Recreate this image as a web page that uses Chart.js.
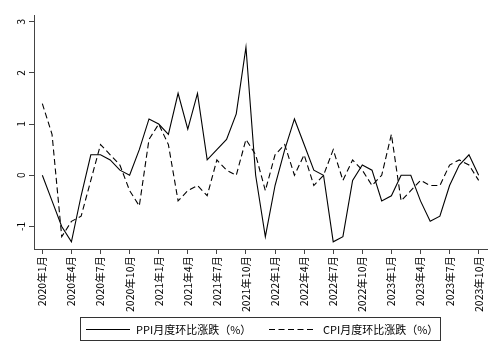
<!DOCTYPE html>
<html>
<head>
<meta charset="utf-8">
<script src="https://cdn.jsdelivr.net/npm/chart.js@4"></script>
<style>
  body { margin: 0; background: #fff; }
  #wrap { width: 499px; height: 361px; }
</style>
</head>
<body>
<div id="wrap"><canvas id="chart" width="499" height="361"></canvas></div>
<script>
const months = [
  "2020年1月", "2020年2月", "2020年3月", "2020年4月", "2020年5月", "2020年6月",
  "2020年7月", "2020年8月", "2020年9月", "2020年10月", "2020年11月", "2020年12月",
  "2021年1月", "2021年2月", "2021年3月", "2021年4月", "2021年5月", "2021年6月",
  "2021年7月", "2021年8月", "2021年9月", "2021年10月", "2021年11月", "2021年12月",
  "2022年1月", "2022年2月", "2022年3月", "2022年4月", "2022年5月", "2022年6月",
  "2022年7月", "2022年8月", "2022年9月", "2022年10月", "2022年11月", "2022年12月",
  "2023年1月", "2023年2月", "2023年3月", "2023年4月", "2023年5月", "2023年6月",
  "2023年7月", "2023年8月", "2023年9月", "2023年10月"
];

// PPI 月度环比 (%)
const ppi = [
  0.0, -0.5, -1.0, -1.3, -0.4, 0.4, 0.4, 0.3, 0.1, 0.0, 0.5, 1.1,
  1.0, 0.8, 1.6, 0.9, 1.6, 0.3, 0.5, 0.7, 1.2, 2.5, 0.0, -1.2,
  -0.2, 0.5, 1.1, 0.6, 0.1, 0.0, -1.3, -1.2, -0.1, 0.2, 0.1, -0.5,
  -0.4, 0.0, 0.0, -0.5, -0.9, -0.8, -0.2, 0.2, 0.4, 0.0
];

// CPI 月度环比 (%)
const cpi = [
  1.4, 0.8, -1.2, -0.9, -0.8, -0.1, 0.6, 0.4, 0.2, -0.3, -0.6, 0.7,
  1.0, 0.6, -0.5, -0.3, -0.2, -0.4, 0.3, 0.1, 0.0, 0.7, 0.4, -0.3,
  0.4, 0.6, 0.0, 0.4, -0.2, 0.0, 0.5, -0.1, 0.3, 0.1, -0.2, 0.0,
  0.8, -0.5, -0.3, -0.1, -0.2, -0.2, 0.2, 0.3, 0.2, -0.1
];

// every third month gets a tick
const xTicks = [0, 3, 6, 9, 12, 15, 18, 21, 24, 27, 30, 33, 36, 39, 42, 45];
const yTicks = [-1, 0, 1, 2, 3];

const seriesNames = ["PPI月度环比涨跌（%）", "CPI月度环比涨跌（%）"];

const FONT = "'Noto Sans CJK SC', 'Noto Sans', sans-serif";
const AXIS = "#444";

function toPoints(arr) {
  return arr.map((v, i) => ({ x: i, y: v }));
}

// y labels are rotated in the original, Chart.js can't rotate vertical ticks
const extras = {
  id: "extras",
  afterDraw(chart) {
    const ctx = chart.ctx;
    const ys = chart.scales.y;

    ctx.save();
    ctx.fillStyle = "#000";
    ctx.font = "10px " + FONT;
    ctx.textAlign = "center";
    ctx.textBaseline = "middle";
    for (const t of ys.ticks) {
      const py = ys.getPixelForValue(t.value);
      ctx.save();
      ctx.translate(21, py);
      ctx.rotate(-Math.PI / 2);
      ctx.fillText(String(t.value), 0, 0);
      ctx.restore();
    }
    ctx.restore();

    // legend box
    ctx.save();
    ctx.strokeStyle = "#333";
    ctx.lineWidth = 1;
    ctx.strokeRect(80.5, 317.5, 360, 23);

    const items = [
      { x0: 86, x1: 130, tx: 136, dash: [] },
      { x0: 269, x1: 316, tx: 323, dash: [6, 3.5] }
    ];
    const ly = 329.5;
    ctx.font = "11px " + FONT;
    ctx.fillStyle = "#000";
    ctx.textBaseline = "middle";
    ctx.textAlign = "left";
    items.forEach((it, k) => {
      ctx.beginPath();
      ctx.setLineDash(it.dash);
      ctx.strokeStyle = "#000";
      ctx.lineWidth = 1.1;
      ctx.moveTo(it.x0, ly);
      ctx.lineTo(it.x1, ly);
      ctx.stroke();
      ctx.setLineDash([]);
      ctx.fillText(chart.data.datasets[k].label, it.tx, ly);
    });
    ctx.restore();
  }
};

const ctx = document.getElementById("chart").getContext("2d");
const chart = new Chart(ctx, {
  type: "line",
  data: {
    datasets: [
      {
        label: seriesNames[0],
        data: toPoints(ppi),
        borderColor: "#000",
        borderWidth: 1.1,
        pointRadius: 0,
        tension: 0,
        fill: false
      },
      {
        label: seriesNames[1],
        data: toPoints(cpi),
        borderColor: "#000",
        borderWidth: 1.1,
        borderDash: [6, 3.5],
        pointRadius: 0,
        tension: 0,
        fill: false
      }
    ]
  },
  options: {
    responsive: false,
    animation: false,
    layout: {
      padding: { left: 0, right: 12, top: 15, bottom: 42 }
    },
    plugins: {
      legend: { display: false },
      tooltip: { enabled: false }
    },
    scales: {
      x: {
        type: "linear",
        min: -0.86,
        max: 45.86,
        afterBuildTicks: (s) => {
          s.ticks = xTicks.map(v => ({ value: v }));
        },
        afterFit: (s) => {
          s.height = 70;
          s.paddingLeft = 0;
          s.paddingRight = 0;
        },
        ticks: {
          callback: (v) => months[v],
          autoSkip: false,
          minRotation: 90,
          maxRotation: 90,
          padding: 2,
          color: "#000",
          font: { family: FONT, size: 10.5 }
        },
        grid: {
          display: true,
          drawOnChartArea: false,
          drawTicks: true,
          tickLength: 5,
          color: AXIS
        },
        border: { display: true, color: AXIS, width: 1 }
      },
      y: {
        type: "linear",
        min: -1.44,
        max: 3.13,
        afterBuildTicks: (s) => {
          s.ticks = yTicks.map(v => ({ value: v }));
        },
        afterFit: (s) => {
          s.width = 34;
        },
        ticks: {
          color: "rgba(0,0,0,0)",
          font: { family: FONT, size: 10 }
        },
        grid: {
          display: true,
          drawOnChartArea: false,
          drawTicks: true,
          tickLength: 5,
          color: AXIS
        },
        border: { display: true, color: AXIS, width: 1 }
      }
    }
  },
  plugins: [extras]
});
</script>
</body>
</html>
